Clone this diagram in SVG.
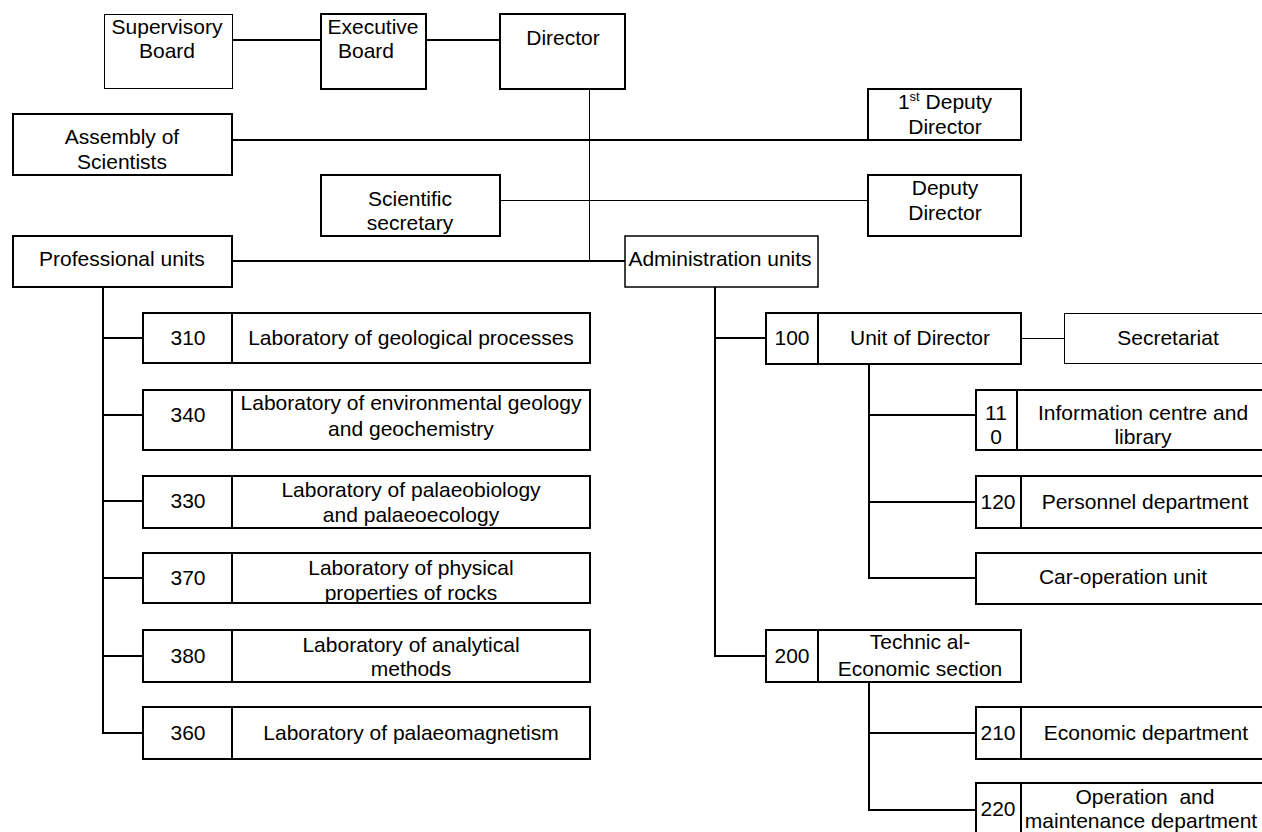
<svg xmlns="http://www.w3.org/2000/svg" width="1262" height="832" viewBox="0 0 1262 832">
  <style>
    .box { fill: #fff; stroke: #000; stroke-width: 2; }
    .thin { fill: #fff; stroke: #000; stroke-width: 1; }
    .mid { fill: #fff; stroke: #000; stroke-width: 1.5; }
    .div { stroke: #000; stroke-width: 2; }
    .ln { fill: none; stroke: #000; stroke-width: 2; }
    .ln1 { fill: none; stroke: #000; stroke-width: 1; }
    text { font-family: "Liberation Sans", Arial, sans-serif; font-size: 21px; fill: #000; text-anchor: middle; white-space: pre; }
    .sup { font-size: 13px; }
  </style>
  <rect width="1262" height="832" fill="#fff"/>

  <!-- connectors -->
  <g id="connectors">
    <line class="ln" x1="232" y1="40" x2="321" y2="40"/>
    <line class="ln" x1="426" y1="40" x2="500" y2="40"/>
    <line class="ln1" x1="589.5" y1="89" x2="589.5" y2="261"/>
    <line class="ln" x1="232" y1="140" x2="868" y2="140"/>
    <line class="ln1" x1="500" y1="200.5" x2="868" y2="200.5"/>
    <line class="ln" x1="232" y1="261" x2="625" y2="261"/>
    <!-- professional units tree -->
    <polyline class="ln" points="103,287 103,733 143,733"/>
    <line class="ln" x1="103" y1="338" x2="143" y2="338"/>
    <line class="ln" x1="103" y1="415" x2="143" y2="415"/>
    <line class="ln" x1="103" y1="501" x2="143" y2="501"/>
    <line class="ln" x1="103" y1="578" x2="143" y2="578"/>
    <line class="ln" x1="103" y1="656" x2="143" y2="656"/>
    <!-- administration units tree -->
    <polyline class="ln" points="715,287 715,656 766,656"/>
    <line class="ln" x1="715" y1="338" x2="766" y2="338"/>
    <line class="ln1" x1="1021" y1="338.5" x2="1064" y2="338.5"/>
    <polyline class="ln" points="869,364 869,578 976,578"/>
    <line class="ln" x1="869" y1="415" x2="976" y2="415"/>
    <line class="ln" x1="869" y1="502" x2="976" y2="502"/>
    <polyline class="ln" points="869,682 869,810 976,810"/>
    <line class="ln" x1="869" y1="733" x2="976" y2="733"/>
  </g>

  <g id="supervisory-board">
    <rect class="thin" x="104.5" y="14.5" width="128" height="74"/>
    <text x="167" y="34">Supervisory</text>
    <text x="167" y="58">Board</text>
  </g>
  <g id="executive-board">
    <rect class="box" x="321" y="14" width="105" height="75"/>
    <text x="373" y="34">Executive</text>
    <text x="366" y="58">Board</text>
  </g>
  <g id="director">
    <rect class="box" x="500" y="14" width="125" height="75"/>
    <text x="563" y="45">Director</text>
  </g>
  <g id="first-deputy-director">
    <rect class="box" x="868" y="89" width="153" height="51"/>
    <text x="945" y="109">1<tspan class="sup" dy="-8">st</tspan><tspan dy="8"> Deputy</tspan></text>
    <text x="945" y="134">Director</text>
  </g>
  <g id="assembly-of-scientists">
    <rect class="box" x="13" y="114" width="219" height="61"/>
    <text x="122" y="144">Assembly of</text>
    <text x="122" y="169">Scientists</text>
  </g>
  <g id="scientific-secretary">
    <rect class="box" x="321" y="175" width="179" height="61"/>
    <text x="410" y="206">Scientific</text>
    <text x="410" y="230">secretary</text>
  </g>
  <g id="deputy-director">
    <rect class="box" x="868" y="175" width="153" height="61"/>
    <text x="945" y="195">Deputy</text>
    <text x="945" y="220">Director</text>
  </g>
  <g id="professional-units">
    <rect class="box" x="13" y="236" width="219" height="51"/>
    <text x="122" y="266">Professional units</text>
  </g>
  <g id="administration-units">
    <rect class="mid" x="625" y="236" width="193" height="51"/>
    <text x="720" y="266">Administration units</text>
  </g>

  <!-- laboratories -->
  <g id="lab-310">
    <rect class="box" x="143" y="313" width="447" height="50"/>
    <line class="div" x1="232" y1="313" x2="232" y2="363"/>
    <text x="188" y="345">310</text>
    <text x="411" y="345">Laboratory of geological processes</text>
  </g>
  <g id="lab-340">
    <rect class="box" x="143" y="390" width="447" height="60"/>
    <line class="div" x1="232" y1="390" x2="232" y2="450"/>
    <text x="188" y="422">340</text>
    <text x="411" y="410">Laboratory of environmental geology</text>
    <text x="411" y="436">and geochemistry</text>
  </g>
  <g id="lab-330">
    <rect class="box" x="143" y="476" width="447" height="52"/>
    <line class="div" x1="232" y1="476" x2="232" y2="528"/>
    <text x="188" y="508">330</text>
    <text x="411" y="497">Laboratory of palaeobiology</text>
    <text x="411" y="522">and palaeoecology</text>
  </g>
  <g id="lab-370">
    <rect class="box" x="143" y="553" width="447" height="50"/>
    <line class="div" x1="232" y1="553" x2="232" y2="603"/>
    <text x="188" y="585">370</text>
    <text x="411" y="575">Laboratory of physical</text>
    <text x="411" y="600">properties of rocks</text>
  </g>
  <g id="lab-380">
    <rect class="box" x="143" y="630" width="447" height="52"/>
    <line class="div" x1="232" y1="630" x2="232" y2="682"/>
    <text x="188" y="663">380</text>
    <text x="411" y="652">Laboratory of analytical</text>
    <text x="411" y="676">methods</text>
  </g>
  <g id="lab-360">
    <rect class="box" x="143" y="707" width="447" height="52"/>
    <line class="div" x1="232" y1="707" x2="232" y2="759"/>
    <text x="188" y="740">360</text>
    <text x="411" y="740">Laboratory of palaeomagnetism</text>
  </g>

  <!-- administration sections -->
  <g id="unit-100">
    <rect class="box" x="766" y="313" width="255" height="51"/>
    <line class="div" x1="818" y1="313" x2="818" y2="364"/>
    <text x="792" y="345">100</text>
    <text x="920" y="345">Unit of Director</text>
  </g>
  <g id="secretariat">
    <rect class="thin" x="1064.5" y="313.5" width="210" height="50"/>
    <text x="1168" y="345">Secretariat</text>
  </g>
  <g id="unit-110">
    <rect class="box" x="976" y="390" width="300" height="60"/>
    <line class="div" x1="1017" y1="390" x2="1017" y2="450"/>
    <text x="996" y="420">11</text>
    <text x="996" y="444">0</text>
    <text x="1143" y="420">Information centre and</text>
    <text x="1143" y="444">library</text>
  </g>
  <g id="unit-120">
    <rect class="box" x="976" y="476" width="300" height="52"/>
    <line class="div" x1="1021" y1="476" x2="1021" y2="528"/>
    <text x="998" y="509">120</text>
    <text x="1145" y="509">Personnel department</text>
  </g>
  <g id="car-operation">
    <rect class="box" x="976" y="553" width="300" height="51"/>
    <text x="1123" y="584">Car-operation unit</text>
  </g>
  <g id="unit-200">
    <rect class="box" x="766" y="630" width="255" height="52"/>
    <line class="div" x1="818" y1="630" x2="818" y2="682"/>
    <text x="792" y="663">200</text>
    <text x="920" y="649">Technic al-</text>
    <text x="920" y="676">Economic section</text>
  </g>
  <g id="unit-210">
    <rect class="box" x="976" y="707" width="300" height="52"/>
    <line class="div" x1="1021" y1="707" x2="1021" y2="759"/>
    <text x="998" y="740">210</text>
    <text x="1146" y="740">Economic department</text>
  </g>
  <g id="unit-220">
    <rect class="box" x="976" y="783" width="300" height="60"/>
    <line class="div" x1="1021" y1="783" x2="1021" y2="843"/>
    <text x="998" y="816">220</text>
    <text x="1145" y="804">Operation  and</text>
    <text x="1141" y="828">maintenance department</text>
  </g>
</svg>
